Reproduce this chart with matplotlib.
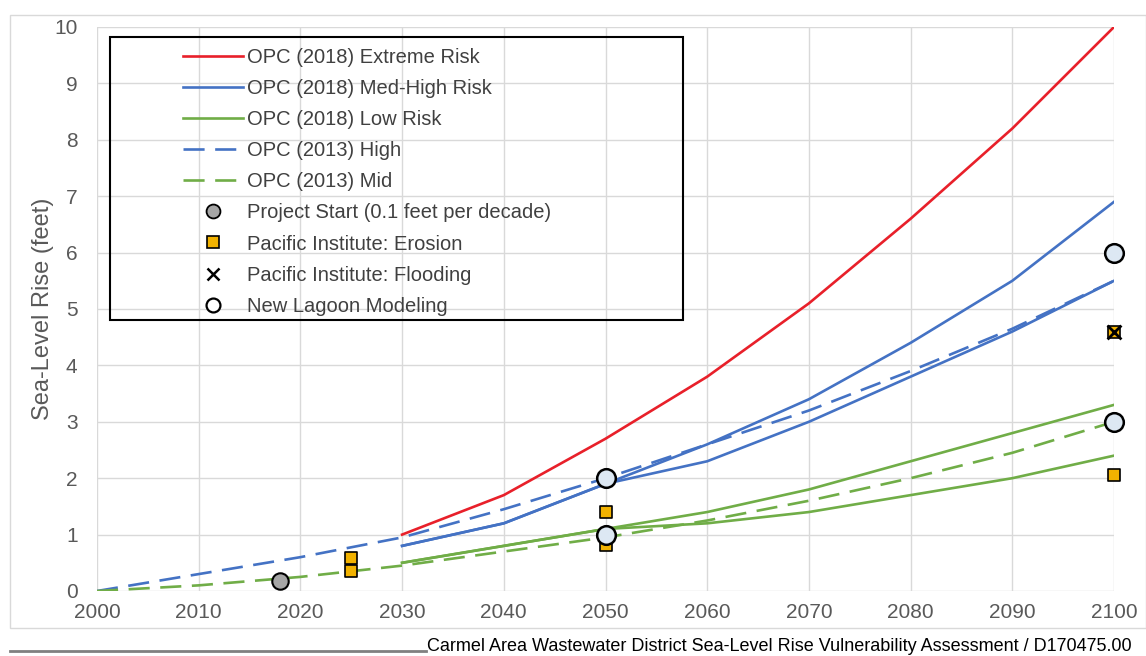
import numpy as np
import matplotlib.pyplot as plt
from matplotlib.patches import Rectangle
from matplotlib.lines import Line2D

plt.rcParams['font.family'] = ['Liberation Sans', 'DejaVu Sans']

decades = [2000, 2010, 2020, 2030, 2040, 2050, 2060, 2070, 2080, 2090, 2100]
future = [2030, 2040, 2050, 2060, 2070, 2080, 2090, 2100]

# OPC 2018 projections (feet), two emissions cases where given
extreme = [1.0, 1.7, 2.7, 3.8, 5.1, 6.6, 8.2, 10.0]
medhigh_a = [0.8, 1.2, 1.9, 2.6, 3.4, 4.4, 5.5, 6.9]
medhigh_b = [0.8, 1.2, 1.9, 2.3, 3.0, 3.8, 4.6, 5.5]
low_a = [0.5, 0.8, 1.1, 1.4, 1.8, 2.3, 2.8, 3.3]
low_b = [0.5, 0.8, 1.1, 1.2, 1.4, 1.7, 2.0, 2.4]

# OPC 2013 projections
opc13_high = [0.0, 0.3, 0.6, 0.95, 1.45, 2.0, 2.6, 3.2, 3.9, 4.65, 5.5]
opc13_mid = [0.0, 0.1, 0.25, 0.45, 0.7, 0.95, 1.25, 1.6, 2.0, 2.45, 3.0]

start_x, start_y = [2018], [0.18]
erosion_x = [2025, 2025, 2050, 2050, 2100, 2100]
erosion_y = [0.35, 0.58, 0.82, 1.4, 2.05, 4.6]
flood_x, flood_y = [2100], [4.6]
lagoon_x = [2050, 2050, 2100, 2100]
lagoon_y = [1.0, 2.0, 3.0, 6.0]

red = '#e8202a'
blue = '#4472c4'
green = '#70ad47'
txt = '#595959'
W, H = 1146, 656

fig = plt.figure(figsize=(W / 100, H / 100), dpi=100)
fig.patches.append(Rectangle((10 / W, 28 / H), 1 - 10 / W, 1 - 43 / H,
                             transform=fig.transFigure, fill=False,
                             edgecolor='#d9d9d9', lw=1))
ax = fig.add_axes([97 / W, 65 / H, 1017 / W, 564 / H])

lw = 1.9
dash = (8, 4)
ax.plot(future, extreme, color=red, lw=lw)
ax.plot(future, medhigh_a, color=blue, lw=lw)
ax.plot(future, medhigh_b, color=blue, lw=lw)
ax.plot(future, low_a, color=green, lw=lw)
ax.plot(future, low_b, color=green, lw=lw)
ax.plot(decades, opc13_high, color=blue, lw=lw, dashes=dash)
ax.plot(decades, opc13_mid, color=green, lw=lw, dashes=dash)

ax.scatter(start_x, start_y, s=140, marker='o', color='#a6a6a6',
           edgecolor='black', lw=1.5, zorder=5, clip_on=False)
ax.scatter(erosion_x, erosion_y, s=65, marker='s', color='#f2b200',
           edgecolor='black', lw=1.2, zorder=4, clip_on=False)
ax.scatter(flood_x, flood_y, s=100, marker='x', color='black', lw=2,
           zorder=5, clip_on=False)
ax.scatter(lagoon_x, lagoon_y, s=180, marker='o', color='#dde8f3',
           edgecolor='black', lw=1.8, zorder=6, clip_on=False)

ax.set_xlim(2000, 2100)
ax.set_ylim(0, 10)
ax.set_xticks(decades)
ax.set_yticks(range(11))
ax.grid(True, color='#d9d9d9', lw=1)
ax.set_axisbelow(True)
for s in ax.spines.values():
    s.set_visible(False)
ax.tick_params(length=0, labelsize=15, colors=txt)
ax.tick_params(axis='x', pad=9)
ax.tick_params(axis='y', pad=14)
ax.set_ylabel('Sea-Level Rise (feet)', fontsize=17, color=txt, labelpad=0)

handles = [
    Line2D([], [], color=red, lw=lw),
    Line2D([], [], color=blue, lw=lw),
    Line2D([], [], color=green, lw=lw),
    Line2D([], [], color=blue, lw=lw, dashes=dash),
    Line2D([], [], color=green, lw=lw, dashes=dash),
    Line2D([], [], ls='none', marker='o', ms=10, mfc='#a6a6a6', mec='black', mew=1.3),
    Line2D([], [], ls='none', marker='s', ms=8, mfc='#f2b200', mec='black', mew=1.2),
    Line2D([], [], ls='none', marker='x', ms=9, color='black', mew=1.8),
    Line2D([], [], ls='none', marker='o', ms=10, mfc='white', mec='black', mew=1.6),
]
labels = ['OPC (2018) Extreme Risk', 'OPC (2018) Med-High Risk',
          'OPC (2018) Low Risk', 'OPC (2013) High', 'OPC (2013) Mid',
          'Project Start (0.1 feet per decade)', 'Pacific Institute: Erosion',
          'Pacific Institute: Flooding', 'New Lagoon Modeling']
leg = ax.legend(handles, labels, loc='upper left',
                bbox_to_anchor=((183 - 97) / 1017, (591 - 48) / 564),
                borderaxespad=0, borderpad=0, frameon=False, fontsize=14.5,
                handlelength=3.0, handletextpad=0.2, labelspacing=0.6,
                numpoints=1)
for t in leg.get_texts():
    t.set_color('#404040')

# legend box
ax.add_patch(Rectangle(((110 - 97) / 1017, (591 - 320) / 564),
                       (683 - 110) / 1017, (320 - 37) / 564,
                       transform=ax.transAxes, facecolor='none',
                       edgecolor='black', lw=1.5, zorder=7))

fig.add_artist(Line2D([10 / W, 426 / W], [5 / H, 5 / H], color='#808080',
                      lw=2, transform=fig.transFigure))
fig.text(427 / W, 1 / H,
         'Carmel Area Wastewater District Sea-Level Rise Vulnerability Assessment / D170475.00',
         fontsize=13, color='black', ha='left', va='bottom')

fig.savefig('out.png', dpi=100)
